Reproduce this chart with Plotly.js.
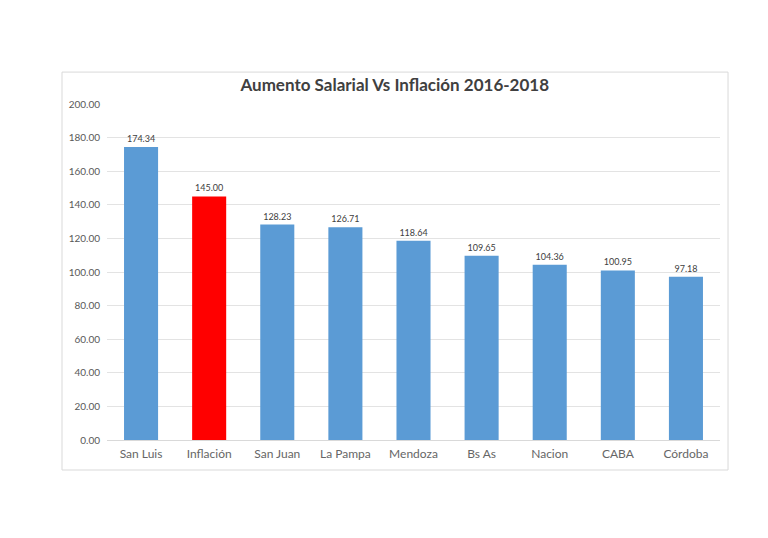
<!DOCTYPE html>
<html>
<head>
<meta charset="utf-8">
<script src="https://cdn.plot.ly/plotly-3.0.1.min.js"></script>
<style>html,body{margin:0;padding:0;background:#fff;}#chart{width:768px;height:538px;}</style>
</head>
<body>
<div id="chart"></div>
<script>
const categories = ["San Luis", "Inflación", "San Juan", "La Pampa", "Mendoza", "Bs As", "Nacion", "CABA", "Córdoba"];
const values = [174.34, 145.00, 128.23, 126.71, 118.64, 109.65, 104.36, 100.95, 97.18];
const barColors = ["#5b9bd5", "#ff0000", "#5b9bd5", "#5b9bd5", "#5b9bd5", "#5b9bd5", "#5b9bd5", "#5b9bd5", "#5b9bd5"];
const titleText = "Aumento Salarial Vs Inflación 2016-2018";

const font = "Lato, 'Open Sans', sans-serif";
const trace = {
  type: "bar",
  x: categories,
  y: values,
  marker: {color: barColors},
  texttemplate: "%{y:.2f}",
  textposition: "outside",
  cliponaxis: false,
  textfont: {family: font, size: 9, color: "#404040"},
  hoverinfo: "x+y"
};
const layout = {
  width: 768, height: 538,
  margin: {l: 107, r: 48, t: 104, b: 98},
  paper_bgcolor: "#ffffff",
  plot_bgcolor: "#ffffff",
  bargap: 0.5,
  showlegend: false,
  title: {text: "<b>" + titleText + "</b>", font: {family: font, size: 17, color: "#404040"}, x: 0.514, xanchor: "center", y: 0.842, yanchor: "middle"},
  xaxis: {
    tickfont: {family: font, size: 12, color: "#666666"},
    showline: true, linecolor: "#d9d9d9", linewidth: 1,
    ticks: "", fixedrange: true, ticklabelstandoff: 3
  },
  yaxis: {
    range: [0, 200], dtick: 20, tickformat: ".2f",
    tickfont: {family: font, size: 10, color: "#595959"},
    gridcolor: "#e3e3e3", gridwidth: 1,
    zeroline: false, showline: false, ticks: "", ticklabelstandoff: 6
  },
  shapes: [{
    type: "rect", xref: "paper", yref: "paper",
    x0: -0.0734, x1: 1.0131, y0: -0.0893, y1: 1.095,
    line: {color: "#d9d9d9", width: 1}, fillcolor: "rgba(0,0,0,0)", layer: "below"
  }]
};
Plotly.newPlot("chart", [trace], layout, {displayModeBar: false, staticPlot: true});
</script>
</body>
</html>
